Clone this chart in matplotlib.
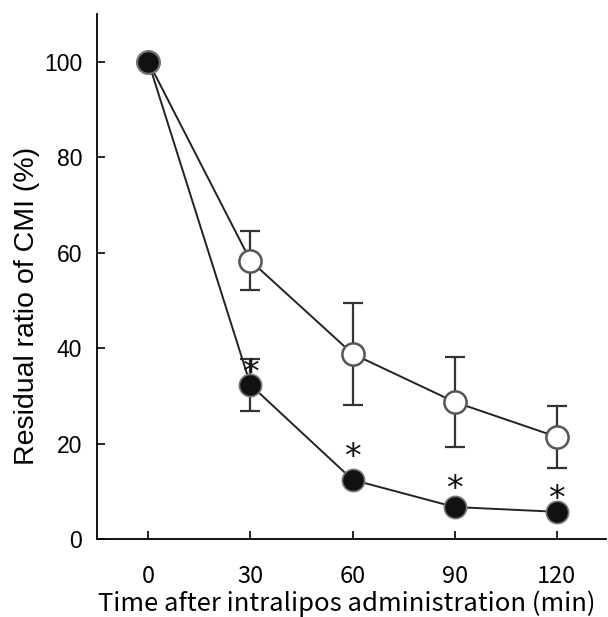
import matplotlib
matplotlib.use("Agg")
import matplotlib.pyplot as plt

# time points (min)
time = [0, 30, 60, 90, 120]

# open circles (control)
open_mean = [100, 58.3, 38.8, 28.7, 21.4]
open_sd = [0, 6.2, 10.7, 9.4, 6.5]

# filled circles (treated)
filled_mean = [100, 32.3, 12.4, 6.7, 5.7]
filled_sd = [0, 5.5, 0, 0, 0]

# significance stars
star_time = [30, 60, 90, 120]
star_y = [34.6, 17.0, 10.4, 8.3]

fig = plt.figure(figsize=(6.08, 6.17), dpi=100)
ax = fig.add_axes([0.16, 0.1264, 0.837, 0.851])

# error bars
ax.errorbar(time[1:], open_mean[1:], yerr=open_sd[1:], fmt="none",
            ecolor="#333333", elinewidth=1.6, capsize=7, capthick=1.6, zorder=1)
ax.errorbar(time[1:2], filled_mean[1:2], yerr=filled_sd[1:2], fmt="none",
            ecolor="#333333", elinewidth=1.6, capsize=7, capthick=1.6, zorder=1)

# lines and markers
ax.plot(time, open_mean, color="#222222", lw=1.4, marker="o", ms=16,
        mfc="white", mec="#555555", mew=1.8, zorder=3)
ax.plot(time, filled_mean, color="#222222", lw=1.4, marker="o", ms=16,
        mfc="#111111", mec="#777777", mew=1.2, zorder=4)

for t, y in zip(star_time, star_y):
    ax.text(t, y, "*", ha="center", va="center", fontsize=24,
            family="DejaVu Sans", color="#111111", zorder=5)

ax.set_xlim(-15, 134.5)
ax.set_ylim(0, 110)
ax.set_xticks(time)
ax.set_yticks([0, 20, 40, 60, 80, 100])
ax.tick_params(direction="in", length=6, width=1.2)
for lab in ax.get_yticklabels():
    lab.set_family("Liberation Sans")
    lab.set_fontsize(16.5)
for lab in ax.get_xticklabels():
    lab.set_family("Noto Sans CJK JP")
    lab.set_fontsize(17)
ax.tick_params(axis="x", pad=19)
ax.tick_params(axis="y", pad=11)

ax.spines["top"].set_visible(False)
ax.spines["right"].set_visible(False)
ax.spines["left"].set_linewidth(1.3)
ax.spines["bottom"].set_linewidth(1.3)

ax.set_ylabel("Residual ratio of CMI (%)", fontsize=20.5,
              family=["Liberation Sans", "DejaVu Sans"], va="center")
ax.yaxis.set_label_coords(-0.1375, 0.444)
ax.set_xlabel("Time after intralipos administration (min)", fontsize=18.5,
              family="Noto Sans CJK JP", va="center")
ax.xaxis.set_label_coords(0.49, -0.123)

plt.savefig("out.png", dpi=100)
